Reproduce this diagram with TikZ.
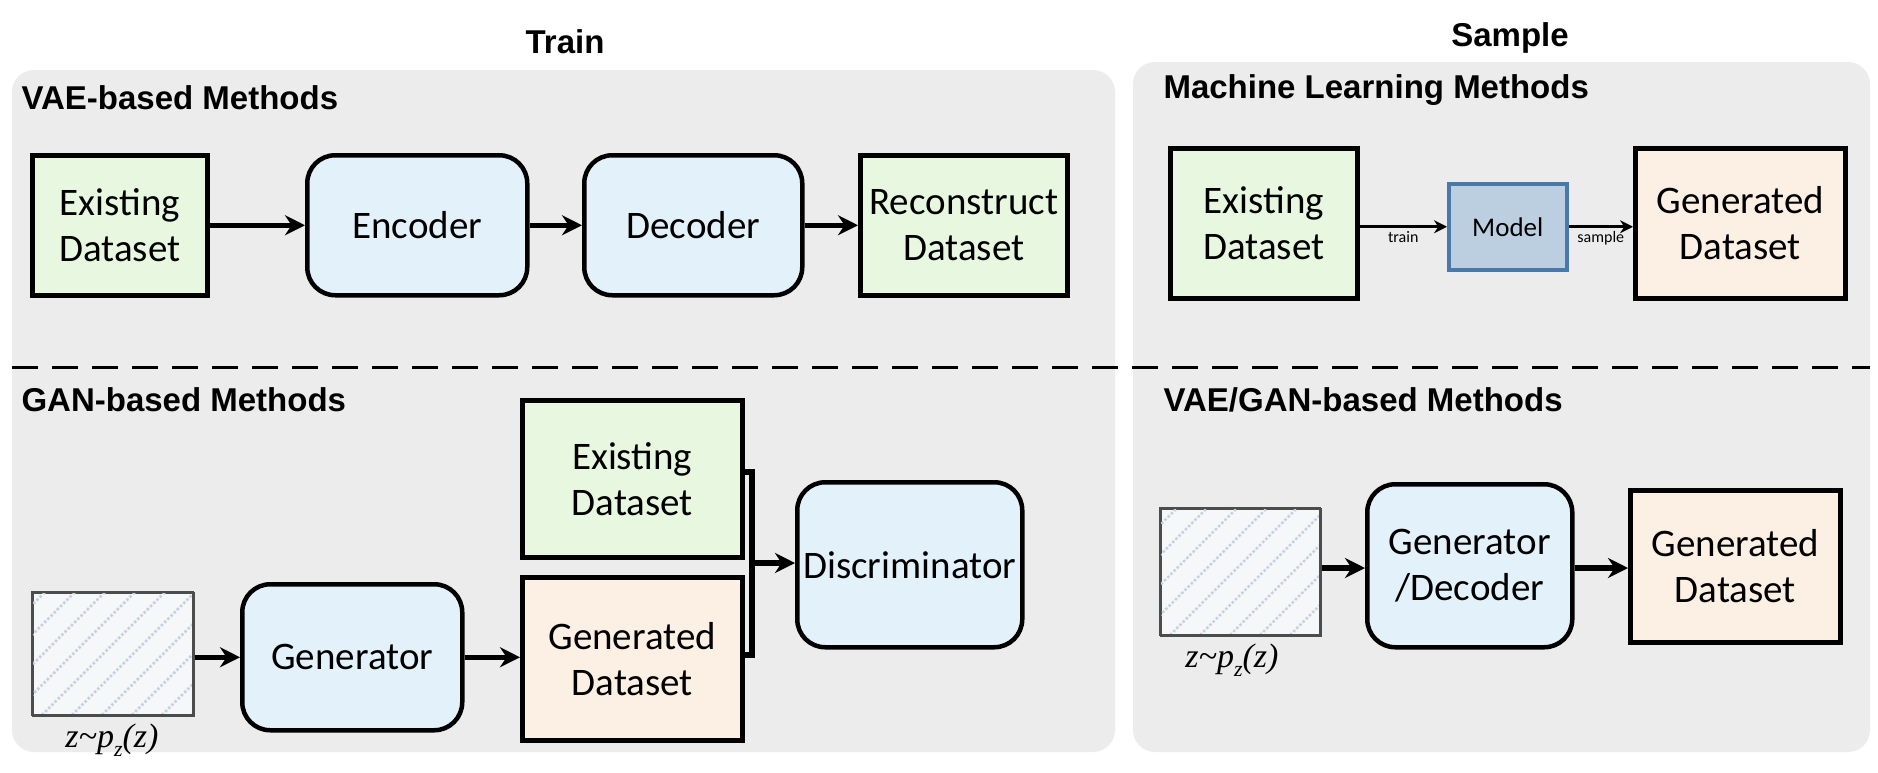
\documentclass[tikz,border=0pt]{standalone}
\usepackage{fontspec}
\setmainfont{Carlito}
\newfontfamily\titlefont{Liberation Sans}
\newfontfamily\zfont{Liberation Serif}
\usetikzlibrary{arrows.meta}
\definecolor{panelgray}{HTML}{ECECEC}
\definecolor{gfill}{HTML}{E8F8E0}
\definecolor{bfill}{HTML}{E3F1FA}
\definecolor{pfill}{HTML}{FCEFE3}
\definecolor{mfill}{HTML}{BCCFE0}
\definecolor{mline}{HTML}{4A78A8}
\definecolor{hatchc}{HTML}{C4D2E0}
\definecolor{hfill}{HTML}{F6F7F9}
\tikzset{
 panel/.style={fill=panelgray,draw=none,rounded corners=22pt},
 ttl/.style={anchor=west,font=\titlefont\bfseries\fontsize{33}{37}\selectfont},
 head/.style={font=\titlefont\bfseries\fontsize{33}{37}\selectfont},
 box/.style={draw,line width=4.5pt,align=center,font=\fontsize{39}{46}\selectfont,inner sep=0},
 rbox/.style={box,rounded corners=28pt,fill=bfill},
 arr/.style={line width=5.5pt,-{Stealth[length=20pt,width=20pt]}},
 thin/.style={line width=3pt,-{Stealth[length=13pt,width=13pt]}},
 zl/.style={font=\zfont\itshape\fontsize{34}{38}\selectfont},
}
\newcommand{\hatchbox}[5]{% name, x1,y1,x2,y2
 \node[draw=black!70,line width=1.5pt,fill=hfill,minimum width=#4-#2,minimum height=#5-#3,anchor=north west,inner sep=0] (#1) at (#2,#3) {};
 \begin{scope}
 \clip (#2,#3) rectangle (#4,#5);
 \foreach \k in {-200,-170,...,200} \draw[hatchc,line width=2.5pt,dotted] (#2+\k,#5)--++(200,-200);
 \end{scope}
 \draw[black!70,line width=1.5pt] (#2,#3) rectangle (#4,#5);
}
\begin{document}
\begin{tikzpicture}[x=1pt,y=-1pt]
\useasboundingbox (0,0) rectangle (1878,772);
\fill[white] (0,0) rectangle (1878,772);
\fill[panel] (12,70) rectangle (1115,752);
\fill[panel] (1133,62) rectangle (1870,752);
\node[head] (train) at (565,42) {Train};
\node[head] (sample) at (1510,38) {Sample};
\node[ttl] (t1) at (18,98) {VAE-based Methods};
\node[ttl] (t2) at (1160,90) {Machine Learning Methods};
\node[ttl] (t3) at (18,400) {GAN-based Methods};
\node[ttl] (t4) at (1160,400) {VAE/GAN-based Methods};
\draw[line width=3pt,dash pattern=on 26pt off 14pt] (12,367) -- (1870,367);
% VAE
\node[box,fill=gfill,minimum width=175,minimum height=140,anchor=north west] (ve) at (30,153) {Existing\\Dataset};
\node[rbox,minimum width=220,minimum height=140,anchor=north west] (enc) at (305,153) {Encoder};
\node[rbox,minimum width=218,minimum height=140,anchor=north west] (dec) at (582,153) {Decoder};
\node[box,fill=gfill,minimum width=207,minimum height=140,anchor=north west] (rec) at (858,153) {Reconstruct\\Dataset};
\draw[arr] (ve) -- (enc);
\draw[arr] (enc) -- (dec);
\draw[arr] (dec) -- (rec);
% ML
\node[box,fill=gfill,minimum width=187,minimum height=150,anchor=north west] (me) at (1168,146) {Existing\\Dataset};
\node[draw=mline,line width=3.5pt,fill=mfill,minimum width=118,minimum height=86,anchor=north west,font=\fontsize{27}{30}\selectfont] (model) at (1447,182) {Model};
\node[box,fill=pfill,minimum width=210,minimum height=150,anchor=north west] (mg) at (1633,146) {Generated\\Dataset};
\draw[thin] (me.east|-model) -- node[below,font=\fontsize{16}{18}\selectfont,inner sep=3pt]{train} (model);
\draw[thin] (model) -- node[below,font=\fontsize{16}{18}\selectfont,inner sep=3pt]{sample} (mg.west|-model);
% GAN
\hatchbox{gz}{32}{592}{193}{715}
\node[zl] (gzl) at (112,740) {z\textasciitilde{}p\raisebox{-0.25em}{\fontsize{22}{24}\selectfont z}(z)};
\node[rbox,minimum width=220,minimum height=146,anchor=north west] (gen) at (240,582) {Generator};
\node[box,fill=gfill,minimum width=220,minimum height=157,anchor=north west] (ge) at (520,398) {Existing\\Dataset};
\node[box,fill=pfill,minimum width=220,minimum height=163,anchor=north west] (gg) at (520,575) {Generated\\Dataset};
\node[rbox,minimum width=225,minimum height=165,anchor=north west] (disc) at (795,480) {Discriminator};
\draw[arr] (gz.east|-gen) -- (gen);
\draw[arr] (gen) -- (gg.west|-gen);
\coordinate (b1) at (752,472);
\coordinate (b2) at (752,655);
\draw[line width=5.5pt] (ge.east|-b1) -- (b1) -- (b2) -- (gg.east|-b2);
\draw[arr] (752,563) -- (disc.west|-0,563);
% right VAE/GAN
\hatchbox{rz}{1160}{508}{1320}{635}
\node[zl] (rzl) at (1232,660) {z\textasciitilde{}p\raisebox{-0.25em}{\fontsize{22}{24}\selectfont z}(z)};
\node[rbox,minimum width=205,minimum height=163,anchor=north west] (gd) at (1365,482) {Generator\\/Decoder};
\node[box,fill=pfill,minimum width=210,minimum height=152,anchor=north west] (rg) at (1628,488) {Generated\\Dataset};
\draw[arr] (rz.east|-0,568) -- (gd.west|-0,568);
\draw[arr] (gd.east|-0,568) -- (rg.west|-0,568);
\end{tikzpicture}
\end{document}
